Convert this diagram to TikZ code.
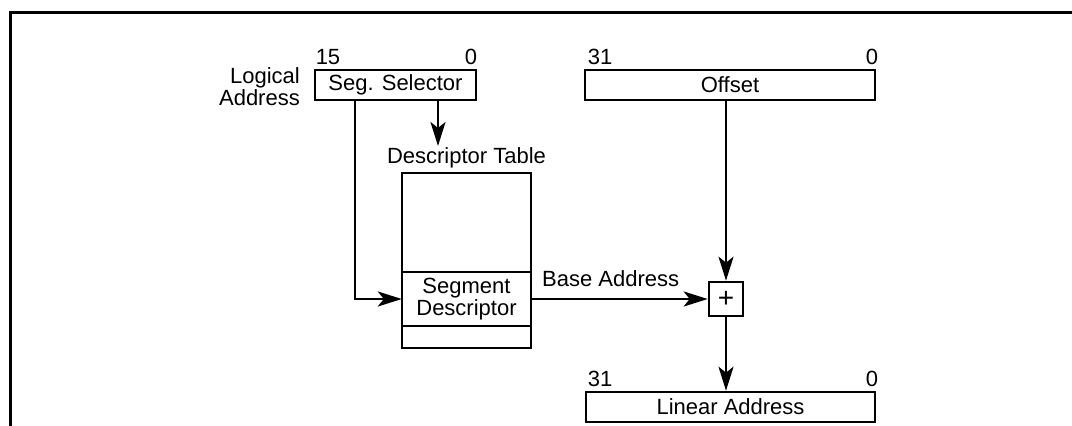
\documentclass[tikz,border=0pt]{standalone}
\usepackage{fontspec}
\setmainfont{Liberation Sans}
\usetikzlibrary{arrows.meta}
\begin{document}
\begin{tikzpicture}[x=1pt,y=-1pt,
  every node/.style={font=\fontsize{22}{22}\selectfont},
  regbox/.style={draw,line width=2.6pt,inner sep=0pt,minimum height=30pt},
  lbl/.style={inner sep=0pt},
  conn/.style={line width=2.5pt},
  arr/.style={conn,-{Stealth[length=24pt,width=15pt,inset=6pt]}}]
\useasboundingbox (0,0) rectangle (1072,426);
% frame
\draw[line width=3pt] (10,426) -- (10,12.7) -- (1072,12.7);
% registers
\node[regbox,minimum width=161pt] (seg) at (395.5,85) {Seg. Selector};
\node[regbox,minimum width=290pt] (off) at (730,85) {Offset};
\node[regbox,minimum width=289pt] (lin) at (730.5,407) {Linear Address};
% bit numbers
\node[lbl] (s15) at (328,57) {15};
\node[lbl] (s0) at (471,57) {0};
\node[lbl] (o31) at (600,57) {31};
\node[lbl] (o0) at (872,57) {0};
\node[lbl] (l31) at (600,379) {31};
\node[lbl] (l0) at (872,379) {0};
\node[lbl,align=right,anchor=east,font=\fontsize{22}{22}\selectfont] (logaddr) at (300,87) {Logical\\Address};
% descriptor table
\node[lbl] (dtlabel) at (466.5,158) {Descriptor Table};
\node[draw,line width=2.6pt,inner sep=0pt,minimum width=129pt,minimum height=175pt] (table) at (466.5,260.5) {};
\node[inner sep=0pt,minimum width=129pt,minimum height=54pt,align=center,font=\fontsize{22}{20}\selectfont] (segdesc) at (466.5,299) {Segment\\Descriptor};
\draw[line width=2.4pt] (segdesc.north west) -- (segdesc.north east);
\draw[line width=1.8pt] (segdesc.south west) -- (segdesc.south east);
% adder
\node[draw,line width=2.6pt,inner sep=0pt,minimum width=34pt,minimum height=34pt,font=\fontsize{28}{28}\selectfont] (plus) at (726,299) {+};
% connectors
\coordinate (dtin) at (438,146);
\coordinate (segleft) at (355,100);
\draw[arr] (seg.south -| dtin) -- (dtin);
\draw[arr] (segleft) |- (segdesc.west);
\draw[arr] (segdesc.east) -- node[lbl,above=11pt,pos=0.45] (baselbl) {Base Address} (plus.west);
\draw[arr] (plus.north |- off.south) -- (plus.north);
\draw[arr] (plus.south) -- (plus.south |- lin.north);
\end{tikzpicture}
\end{document}
